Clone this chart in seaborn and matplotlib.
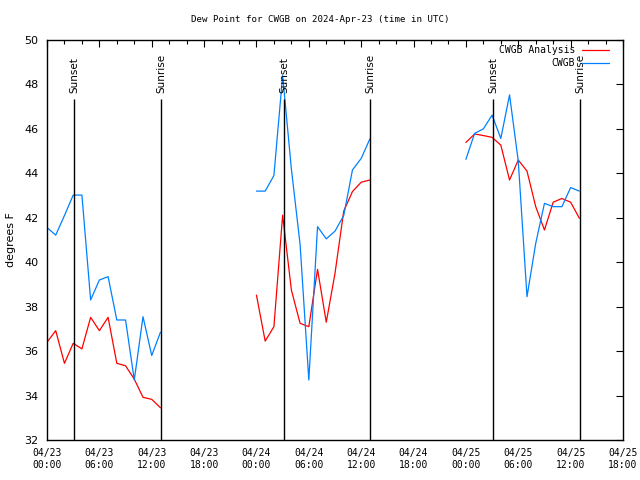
import matplotlib
matplotlib.use('Agg')
import matplotlib.pyplot as plt
import matplotlib.dates as mdates
import seaborn as sns
import pandas as pd

# ---------------------------------------------------------------
# Data (hourly dew point, deg F), one block per day
day_starts = ['2024-04-23 00:00', '2024-04-24 00:00', '2024-04-25 00:00']

analysis_0423 = [36.40, 36.92, 35.45, 36.35, 36.10, 37.52, 36.92, 37.52, 35.45, 35.34, 34.74, 33.92, 33.83, 33.45]
cwgb_0423 = [41.56, 41.22, 42.10, 43.02, 43.02, 38.30, 39.20, 39.35, 37.40, 37.40, 34.70, 37.55, 35.80, 36.85]

analysis_0424 = [38.52, 36.45, 37.10, 42.12, 38.75, 37.25, 37.10, 39.68, 37.30, 39.50, 42.30, 43.18, 43.60, 43.70]
cwgb_0424 = [43.20, 43.20, 43.90, 48.40, 44.20, 40.80, 34.70, 41.60, 41.05, 41.40, 42.10, 44.15, 44.67, 45.55]

analysis_0425 = [45.39, 45.77, 45.70, 45.62, 45.27, 43.70, 44.60, 44.10, 42.50, 41.45, 42.70, 42.87, 42.70, 41.98]
cwgb_0425 = [44.63, 45.80, 46.00, 46.62, 45.57, 47.53, 44.55, 38.45, 40.85, 42.65, 42.50, 42.50, 43.36, 43.20]

sunset_times = ['2024-04-23 03:08', '2024-04-24 03:11', '2024-04-25 03:08']
sunrise_times = ['2024-04-23 13:05', '2024-04-24 13:01', '2024-04-25 13:05']

series_names = ['CWGB Analysis', 'CWGB']
series_colors = ['#ff0000', '#0080ff']

# ---------------------------------------------------------------
# Build long dataframe
analysis_days = [analysis_0423, analysis_0424, analysis_0425]
cwgb_days = [cwgb_0423, cwgb_0424, cwgb_0425]

rows = []
for i, start in enumerate(day_starts):
    for name, vals in zip(series_names, [analysis_days[i], cwgb_days[i]]):
        times = pd.date_range(start, periods=len(vals), freq='h')
        for t, v in zip(times, vals):
            rows.append({'time': t, 'dewpt': v, 'series': name, 'segment': i})
df = pd.DataFrame(rows)

# ---------------------------------------------------------------
# Chart
sns.set_style('white')
plt.rcParams['font.family'] = ['DejaVu Sans Mono']
plt.rcParams.update({'text.color': 'black', 'axes.labelcolor': 'black',
                     'xtick.color': 'black', 'ytick.color': 'black'})

fig = plt.figure(figsize=(6.4, 4.8), dpi=100)
ax = fig.add_axes([47 / 640, 40 / 480, 576 / 640, 400 / 480])

sns.lineplot(data=df, x='time', y='dewpt', hue='series', units='segment',
             estimator=None, hue_order=series_names,
             palette=dict(zip(series_names, series_colors)),
             linewidth=0.9, ax=ax)

# sunset / sunrise markers
for label, times in [('Sunset', sunset_times), ('Sunrise', sunrise_times)]:
    for t in pd.to_datetime(times):
        ax.vlines(t, 32, 47.35, color='black', linewidth=1)
        ax.text(t, 47.62, label, rotation=90, ha='center', va='bottom',
                fontsize=7.5, family='DejaVu Sans')

ax.set_xlim(pd.Timestamp('2024-04-23 00:00'), pd.Timestamp('2024-04-25 18:00'))
ax.set_ylim(32, 50)
ax.set_yticks(range(32, 51, 2))

ax.xaxis.set_major_locator(mdates.HourLocator(byhour=[0, 6, 12, 18]))
ax.xaxis.set_minor_locator(mdates.HourLocator(interval=2))
ax.xaxis.set_major_formatter(mdates.DateFormatter('%m/%d\n%H:%M'))

ax.tick_params(which='both', direction='in', top=True, right=True,
               color='black', width=0.8)
ax.tick_params(which='major', length=5)
ax.tick_params(which='minor', length=3)
ax.tick_params(axis='x', labelsize=7, pad=6, labelfontfamily='DejaVu Sans Mono')
ax.tick_params(axis='y', labelsize=8, pad=6, labelfontfamily='DejaVu Sans')

for sp in ax.spines.values():
    sp.set_color('black')
    sp.set_linewidth(1)

ax.set_xlabel('')
ax.set_ylabel('degrees F', family='DejaVu Sans', fontsize=8, labelpad=6)

fig.text(0.5, 1 - 19 / 480, 'Dew Point for CWGB on 2024-Apr-23 (time in UTC)',
         ha='center', va='center', fontsize=6.6)

handles, labels = ax.get_legend_handles_labels()
ax.legend(handles, labels, loc='upper right', bbox_to_anchor=(0.9757, 0.987),
          frameon=False, markerfirst=False, fontsize=7, handlelength=2.8,
          handletextpad=0.7, labelspacing=0.3, borderaxespad=0, borderpad=0)

fig.savefig('out.png', dpi=100)
